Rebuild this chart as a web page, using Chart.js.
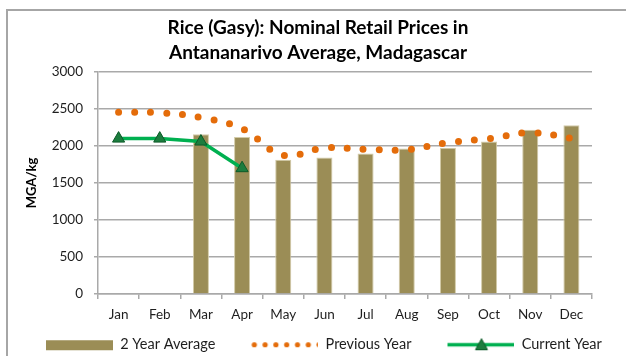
<!DOCTYPE html>
<html>
<head>
<meta charset="utf-8">
<script src="https://cdn.jsdelivr.net/npm/chart.js@4.4.1/dist/chart.umd.min.js"></script>
<style>
    html, body { margin: 0; padding: 0; background: #fff; }
    #wrap { width: 626px; height: 356px; position: relative; }
</style>
</head>
<body>
<div id="wrap"><canvas id="riceChart"></canvas></div>
<script>
// Data
const months = ['Jan', 'Feb', 'Mar', 'Apr', 'May', 'Jun', 'Jul', 'Aug', 'Sep', 'Oct', 'Nov', 'Dec'];
const twoYearAverage = [null, null, 2160, 2120, 1815, 1845, 1900, 1965, 1975, 2060, 2220, 2280];
const previousYear = [2455, 2450, 2385, 2235, 1875, 1975, 1955, 1950, 2045, 2100, 2180, 2105];
const currentYear = [2100, 2100, 2060, 1700, null, null, null, null, null, null, null, null];
const yTicks = [0, 500, 1000, 1500, 2000, 2500, 3000];

// Colours
const BAR = '#9b8d56';
const ORANGE = '#e46c0a';
const GREEN = '#00b050';
const MARKER = '#1c7d3e';
const GRID = '#a9a9a9';
const TEXT = '#1e1e1e';

Chart.defaults.font.family = 'Lato, "Open Sans", sans-serif';
Chart.defaults.color = TEXT;

// Legend icons (transparent left margin keeps the gap between items)
const ICON_W = 97, ICON_H = 14, ICON_GAP = 30;

function makeIcon(draw) {
    const c = document.createElement('canvas');
    c.width = ICON_W;
    c.height = ICON_H;
    draw(c.getContext('2d'));
    return c;
}

const legendIcons = [
    makeIcon(ctx => {
        ctx.fillStyle = BAR;
        ctx.fillRect(ICON_GAP, 3, 67, 10);
    }),
    makeIcon(ctx => {
        ctx.fillStyle = ORANGE;
        for (let i = 0; i < 7; i++) {
            ctx.beginPath();
            ctx.arc(ICON_GAP + 3 + i * 10.8, 7.5, 2.6, 0, Math.PI * 2);
            ctx.fill();
        }
    }),
    makeIcon(ctx => {
        ctx.strokeStyle = GREEN;
        ctx.lineWidth = 3.5;
        ctx.beginPath();
        ctx.moveTo(ICON_GAP, 7.5);
        ctx.lineTo(ICON_W, 7.5);
        ctx.stroke();
        const cx = ICON_GAP + 34;
        ctx.fillStyle = MARKER;
        ctx.strokeStyle = '#0c5a28';
        ctx.lineWidth = 1;
        ctx.beginPath();
        ctx.moveTo(cx, 1.5);
        ctx.lineTo(cx + 6, 12.5);
        ctx.lineTo(cx - 6, 12.5);
        ctx.closePath();
        ctx.fill();
        ctx.stroke();
    })
];

// White background and outer frame
const framePlugin = {
    id: 'frame',
    beforeDraw(chart) {
        const ctx = chart.ctx;
        ctx.save();
        ctx.fillStyle = '#fff';
        ctx.fillRect(0, 0, chart.width, chart.height);
        ctx.strokeStyle = '#a6a6a6';
        ctx.lineWidth = 2;
        ctx.strokeRect(7, 10, chart.width + 20, chart.height + 20);
        ctx.restore();
    }
};

const ctx = document.getElementById('riceChart');

new Chart(ctx, {
    type: 'bar',
    data: {
        labels: months,
        datasets: [
            {
                type: 'bar',
                label: '2 Year Average',
                data: twoYearAverage,
                backgroundColor: BAR,
                borderColor: '#d3cba8',
                borderWidth: 1,
                barPercentage: 0.39,
                categoryPercentage: 1,
                yAxisID: 'y',
                order: 3
            },
            {
                type: 'line',
                label: 'Previous Year',
                data: previousYear,
                borderColor: ORANGE,
                borderWidth: 7,
                borderDash: [0, 16],
                borderCapStyle: 'round',
                tension: 0.4,
                pointRadius: 0,
                fill: false,
                yAxisID: 'y',
                order: 2
            },
            {
                type: 'line',
                label: 'Current Year',
                data: currentYear,
                borderColor: GREEN,
                borderWidth: 3.5,
                tension: 0,
                pointStyle: 'triangle',
                pointRadius: 7,
                pointBackgroundColor: MARKER,
                pointBorderColor: '#0c5a28',
                pointBorderWidth: 1,
                fill: false,
                yAxisID: 'y',
                order: 1
            }
        ]
    },
    options: {
        responsive: true,
        maintainAspectRatio: false,
        animation: false,
        layout: {
            padding: { left: 10, right: 0, top: 0, bottom: 0 }
        },
        plugins: {
            title: {
                display: true,
                text: ['Rice (Gasy): Nominal Retail Prices in', 'Antananarivo Average, Madagascar'],
                color: '#000',
                font: { size: 19, weight: 'bold', lineHeight: 25 / 19 },
                padding: { top: 15.5, bottom: 6.5 }
            },
            legend: {
                position: 'bottom',
                align: 'start',
                maxHeight: 25,
                labels: {
                    usePointStyle: true,
                    pointStyleWidth: ICON_W,
                    padding: 6,
                    font: { size: 14.5 },
                    color: TEXT,
                    generateLabels(chart) {
                        return chart.data.datasets.map((ds, i) => ({
                            text: ds.label,
                            pointStyle: legendIcons[i],
                            datasetIndex: i,
                            hidden: !chart.isDatasetVisible(i),
                            fontColor: TEXT,
                            fillStyle: 'transparent',
                            strokeStyle: 'transparent',
                            lineWidth: 0
                        }));
                    }
                }
            },
            tooltip: { enabled: false }
        },
        scales: {
            x: {
                grid: {
                    display: true,
                    drawOnChartArea: false,
                    drawTicks: true,
                    tickLength: 5,
                    color: GRID,
                    lineWidth: 1.5
                },
                border: { color: GRID, width: 1.5 },
                ticks: { padding: 8, font: { size: 13.5 }, color: TEXT, maxRotation: 0 },
                afterFit(scale) { scale.height = 37; }
            },
            y: {
                min: 0,
                max: 3000,
                afterBuildTicks(scale) {
                    scale.ticks = yTicks.map(v => ({ value: v }));
                },
                grid: {
                    color: GRID,
                    lineWidth: 1.5,
                    tickLength: 4
                },
                border: { color: GRID, width: 1.5 },
                ticks: {
                    padding: 11,
                    font: { size: 13.5 },
                    color: TEXT,
                    callback: v => String(v)
                },
                title: {
                    display: true,
                    text: 'MGA/kg',
                    color: '#000',
                    font: { size: 13, weight: 'bold' },
                    padding: { top: 14, bottom: 0 }
                },
                afterFit(scale) { scale.width = 88; }
            },
            // empty right-hand band so the plot stops short of the frame edge
            yRight: {
                type: 'linear',
                position: 'right',
                display: true,
                grid: { display: false },
                border: { display: false },
                ticks: { display: false },
                afterFit(scale) { scale.width = 34; }
            }
        }
    },
    plugins: [framePlugin]
});
</script>
</body>
</html>
